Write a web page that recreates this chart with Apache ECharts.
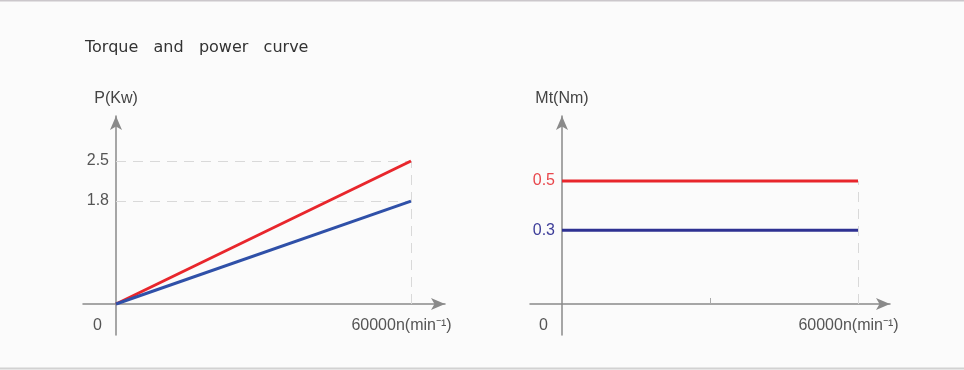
<!DOCTYPE html>
<html>
<head>
<meta charset="utf-8">
<script src="https://cdn.jsdelivr.net/npm/echarts@6/dist/echarts.min.js"></script>
<style>
html,body{margin:0;padding:0;background:#fbfbfb;}
#c{width:964px;height:370px;}
</style>
</head>
<body>
<div id="c"></div>
<script>
// ---- data ----
const title = 'Torque   and   power   curve';
const speedPoints = [0, 60000];            // n (min^-1)
const powerHigh = [0, 2.5];                // P (kW)
const powerLow = [0, 1.8];
const torqueHigh = [0.5, 0.5];             // Mt (Nm)
const torqueLow = [0.3, 0.3];
const powerTicks = [2.5, 1.8];
const torqueTicks = [0.5, 0.3];
const xTickLabels = [0, 60000];
const xMidTick = [30000];
const xUnit = '60000n(min⁻¹)';
const pName = 'P(Kw)';
const mName = 'Mt(Nm)';

const RED = '#e8262c', BLUE = '#2f50a8', NAVY = '#2e3192';
const AX = '#8a8a8a', TXT = '#555';
const FONT = 'Liberation Sans, Arial, sans-serif';
const FS = 16;

function pairs(xs, ys){ return xs.map((x,i)=>[x, ys[i]]); }

const chart = echarts.init(document.getElementById('c'));

function xAxisFor(gridIndex, min, max, withMid){
  return {
    type:'value', gridIndex, min, max,
    axisLine:{show:true, onZero:true, lineStyle:{color:AX, width:1.5}, symbol:['none','arrow'], symbolSize:[9,14]},
    axisTick: withMid ? {show:true, inside:true, length:6, customValues:xMidTick, lineStyle:{color:'#aaa'}} : {show:false},
    splitLine:{show:false},
    axisLabel:{
      show:true, customValues:xTickLabels, margin:-17, color:TXT, fontSize:FS, fontFamily:FONT,
      formatter:(v)=> Number(v)===0 ? '{z|0}' : '{u|'+xUnit+'}',
      rich:{ z:{padding:[0,37,0,0], fontSize:FS, color:TXT, fontFamily:FONT},
             u:{padding:[0,19,0,0], fontSize:FS, color:TXT, fontFamily:FONT} }
    }
  };
}
function yAxisFor(gridIndex, min, max, ticks, name, colorFn, margin){
  return {
    type:'value', gridIndex, min, max, name,
    nameLocation:'end', nameGap:9,
    nameTextStyle:{color:'#444', fontSize:FS, fontFamily:FONT, align:'center'},
    axisLine:{show:true, onZero:true, lineStyle:{color:AX, width:1.5}, symbol:['none','arrow'], symbolSize:[9,14]},
    axisTick:{show:false},
    splitLine:{show:false},
    axisLabel:{
      show:true, customValues:ticks, margin, fontSize:FS, fontFamily:FONT,
      color: colorFn ? (v)=>colorFn(parseFloat(v)) : TXT
    }
  };
}

const dashed = {color:'#d9d9d9', type:[10,7], width:1};

const option = {
  animation:false,
  backgroundColor:'#fbfbfb',
  title:{text:title, left:80, top:35, textStyle:{color:'#333', fontSize:16, fontWeight:'normal', fontFamily:'DejaVu Sans, sans-serif'}},
  graphic:[
    {type:'rect', shape:{x:0,y:0,width:964,height:1.5}, style:{fill:'#cbc7cb'}},
    {type:'rect', shape:{x:0,y:367.5,width:964,height:2}, style:{fill:'#d2d2d2'}}
  ],
  grid:[
    {left:83, right:964-445, top:116, bottom:370-335},
    {left:530, right:964-890, top:116, bottom:370-335}
  ],
  xAxis:[
    xAxisFor(0, -6712, 66915, false),
    xAxisFor(1, -6486, 66486, true)
  ],
  yAxis:[
    yAxisFor(0, -0.542, 3.287, powerTicks, pName, null, -26),
    yAxisFor(1, -0.126, 0.764, torqueTicks, mName, (v)=> v===0.5 ? '#e8474c' : '#3d3d99', -25)
  ],
  series:[
    {type:'line', xAxisIndex:0, yAxisIndex:0, data:pairs(speedPoints, powerHigh), symbol:'none',
     lineStyle:{color:RED, width:3}, z:3,
     markLine:{silent:true, symbol:'none', label:{show:false}, lineStyle:dashed, z:1,
       data:[
         [{coord:[speedPoints[0], powerTicks[0]]},{coord:[speedPoints[1], powerTicks[0]]}],
         [{coord:[speedPoints[0], powerTicks[1]]},{coord:[speedPoints[1], powerTicks[1]]}],
         [{coord:[speedPoints[1], 0]},{coord:[speedPoints[1], powerTicks[0]]}]
       ]}},
    {type:'line', xAxisIndex:0, yAxisIndex:0, data:pairs(speedPoints, powerLow), symbol:'none',
     lineStyle:{color:BLUE, width:3}, z:3},
    {type:'line', xAxisIndex:1, yAxisIndex:1, data:pairs(speedPoints, torqueHigh), symbol:'none',
     lineStyle:{color:RED, width:3}, z:3,
     markLine:{silent:true, symbol:'none', label:{show:false}, lineStyle:dashed, z:1,
       data:[[{coord:[speedPoints[1], 0]},{coord:[speedPoints[1], torqueTicks[0]]}]]}},
    {type:'line', xAxisIndex:1, yAxisIndex:1, data:pairs(speedPoints, torqueLow), symbol:'none',
     lineStyle:{color:NAVY, width:3}, z:3}
  ]
};
chart.setOption(option);
</script>
</body>
</html>
